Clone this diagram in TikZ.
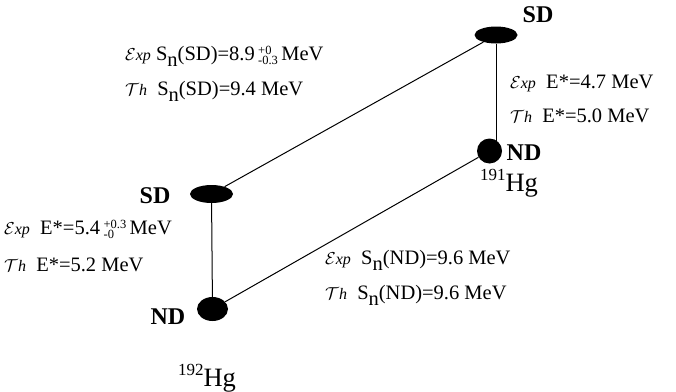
\documentclass[tikz,border=0pt]{standalone}
\usepackage{fontspec}
\setmainfont{Liberation Serif}
\usetikzlibrary{shapes.geometric}
\newcommand\expl{{\fontsize{16}{16}\selectfont$\mathcal{E}$\textit{xp}}}
\newcommand\thl{{\fontsize{16}{16}\selectfont$\mathcal{T}$\textit{h}}}
\newcommand\sn{\raisebox{-0.3em}{n}}
\newcommand\errs[2]{{\fontsize{12.5}{11.5}\selectfont\begin{tabular}[c]{@{}l@{}}#1\\[-1pt]#2\end{tabular}}}
\begin{document}
\begin{tikzpicture}[x=1pt,y=-1pt,
  blob/.style={ellipse,fill=black,inner sep=0pt},
  state/.style={font=\fontsize{24}{24}\selectfont\bfseries,inner sep=0pt},
  txt/.style={font=\fontsize{20.5}{20.5}\selectfont,anchor=west,inner sep=0pt},
  iso/.style={font=\fontsize{26.5}{26.5}\selectfont,inner sep=0pt},
  conn/.style={line width=1pt}]
\useasboundingbox (0,0) rectangle (676,391);
\node[blob,minimum width=43pt,minimum height=17pt] (sdR) at (496,35) {};
\node[blob,minimum width=25pt,minimum height=25pt] (ndR) at (489.5,151) {};
\node[blob,minimum width=43pt,minimum height=18pt] (sdL) at (211.5,194) {};
\node[blob,minimum width=31pt,minimum height=24pt] (ndL) at (212.5,309) {};
\draw[conn] (sdL) -- (sdR);
\draw[conn] (ndL) -- (ndR);
\draw[conn] (sdR) -- (sdR |- ndR);
\draw[conn] (sdL) -- (ndL);
\node[state] (lsdR) at (538,15) {SD};
\node[state] (lndR) at (524,153) {ND};
\node[state] (lsdL) at (155,196) {SD};
\node[state] (lndL) at (168,317) {ND};
\node[iso] (hg191) at (509,183) {\raisebox{0.42em}{\fontsize{17}{17}\selectfont 191}Hg};
\node[iso] (hg192) at (207,378) {\raisebox{0.42em}{\fontsize{17}{17}\selectfont 192}Hg};
\node[txt] (t1) at (125,57) {\expl\ S\sn(SD)=8.9\,\errs{+0}{-0.3}\,MeV};
\node[txt] (t2) at (125,91) {\thl\ \ S\sn(SD)=9.4 MeV};
\node[txt] (t3) at (510,83) {\expl\ \ E*=4.7 MeV};
\node[txt] (t4) at (510,116) {\thl\ \ E*=5.0 MeV};
\node[txt] (t5) at (4,231) {\expl\ \ E*=5.4\,\errs{+0.3}{-0}\,MeV};
\node[txt] (t6) at (4,265) {\thl\ \ E*=5.2 MeV};
\node[txt] (t7) at (325,260) {\expl\ \ S\sn(ND)=9.6 MeV};
\node[txt] (t8) at (325,295) {\thl\ \ S\sn(ND)=9.6 MeV};
\end{tikzpicture}
\end{document}
